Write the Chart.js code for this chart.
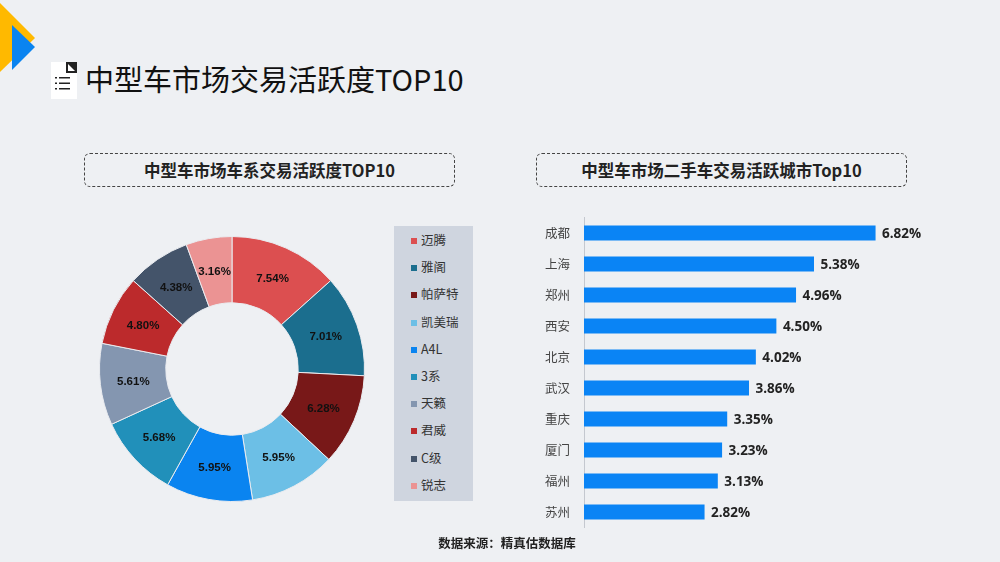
<!DOCTYPE html>
<html lang="zh"><head><meta charset="utf-8">
<script src="https://cdn.jsdelivr.net/npm/chart.js@4"></script>
<style>
html,body{margin:0;padding:0;width:1000px;height:562px;overflow:hidden;background:#eef0f3;font-family:"Noto Sans CJK SC","Noto Sans",sans-serif;color:#111}
.abs{position:absolute}
#title{left:85px;top:57px;font-size:29px;line-height:42px;white-space:nowrap;color:#111}
.sub{box-sizing:border-box;top:153px;height:34px;border:1px dashed #444;border-radius:6px;text-align:center;font-weight:700;font-size:16.5px;line-height:32px;color:#222}
#legend{left:394px;top:226px;width:79px;height:275px;background:#cfd5df}
.li{position:absolute;left:17px;font-size:12.5px;line-height:16px;color:#333;white-space:nowrap}
.li i{display:inline-block;width:6px;height:6px;margin-right:4px;vertical-align:1px}
#src{left:0;top:534px;width:1014px;text-align:center;font-size:12.5px;line-height:18px;font-weight:700;color:#222}
canvas{display:block}
</style></head><body>
<svg class="abs" style="left:0;top:0" width="90" height="105">
<polygon points="0,3 35,38 0,72" fill="#ffb900"/>
<polygon points="12,25 35,47 12,70" fill="#0a84f0"/>
<rect x="51" y="62" width="26" height="37" fill="#fff"/>
<rect x="66" y="62" width="11" height="11" fill="#222"/>
<polygon points="68,64 75,71 68,71" fill="#fff"/>
<rect x="59" y="77" width="11" height="1.5" fill="#222"/><rect x="59" y="82.5" width="11" height="1.5" fill="#222"/><rect x="59" y="88" width="11" height="1.5" fill="#222"/>
<rect x="55" y="77" width="2" height="1.5" fill="#222"/><rect x="55" y="82.5" width="2" height="1.5" fill="#222"/><rect x="55" y="88" width="2" height="1.5" fill="#222"/>
</svg>
<div id="title" class="abs">中型车市场交易活跃度TOP10</div>
<div class="abs sub" style="left:84px;width:371px">中型车市场车系交易活跃度TOP10</div>
<div class="abs sub" style="left:536px;width:371px">中型车市场二手车交易活跃城市Top10</div>
<div id="legend" class="abs"></div>
<div class="abs" style="left:90px;top:227px;width:284px;height:284px"><canvas id="pie"></canvas></div>
<div class="abs" style="left:530px;top:207px;width:400px;height:330px"><canvas id="bar"></canvas></div>
<div id="src" class="abs">数据来源：精真估数据库</div>
<script>
const carNames = ["迈腾","雅阁","帕萨特","凯美瑞","A4L","3系","天籁","君威","C级","锐志"];
const carValues = [7.54,7.01,6.28,5.95,5.95,5.68,5.61,4.80,4.38,3.16];
const carColors = ["#dc4f50","#1b6e8e","#781818","#6cbfe6","#0a84f0","#2190ba","#8496b0","#bc2a2c","#44546a","#eb9393"];
const cityNames = ["成都","上海","郑州","西安","北京","武汉","重庆","厦门","福州","苏州"];
const cityValues = [6.82,5.38,4.96,4.50,4.02,3.86,3.35,3.23,3.13,2.82];
const barColor = "#0a84f5";

const legendEl = document.getElementById('legend');
carNames.forEach((n,i)=>{
  const d=document.createElement('div');d.className='li';d.style.top=(6+i*27.2)+'px';
  const s=document.createElement('i');s.style.background=carColors[i];d.appendChild(s);
  d.appendChild(document.createTextNode(n));legendEl.appendChild(d);
});

const pieLabels={id:'pieLabels',afterDatasetsDraw(c){
  const x=c.ctx;x.save();x.font='bold 11.5px "Liberation Sans"';x.fillStyle='#111';x.textAlign='center';x.textBaseline='middle';
  c.getDatasetMeta(0).data.forEach((a,i)=>{const p=a.getCenterPoint();x.fillText(carValues[i].toFixed(2)+'%',p.x,p.y+1);});
  x.restore();
}};
new Chart(document.getElementById('pie'),{type:'doughnut',
  data:{labels:carNames,datasets:[{data:carValues,backgroundColor:carColors,borderColor:'#e9ebef',borderWidth:1}]},
  options:{responsive:true,maintainAspectRatio:false,animation:false,cutout:'50%',layout:{padding:9},
    plugins:{legend:{display:false},tooltip:{enabled:false}}},
  plugins:[pieLabels]});

const barLabels={id:'barLabels',afterDatasetsDraw(c){
  const x=c.ctx;x.save();x.font='bold 13.5px "Open Sans"';x.fillStyle='#222';x.textAlign='left';x.textBaseline='middle';
  c.getDatasetMeta(0).data.forEach((b,i)=>{x.fillText(cityValues[i].toFixed(2)+'%',b.x+6.5,b.y+1);});
  x.restore();
}};
new Chart(document.getElementById('bar'),{type:'bar',
  data:{labels:cityNames,datasets:[{data:cityValues,backgroundColor:barColor,borderWidth:0,categoryPercentage:1,barPercentage:0.484}]},
  options:{indexAxis:'y',responsive:true,maintainAspectRatio:false,animation:false,
    layout:{padding:{top:10.5,bottom:9.5,right:4,left:0}},
    plugins:{legend:{display:false},tooltip:{enabled:false}},
    scales:{
      x:{display:false,min:0,max:8},
      y:{afterFit(s){s.width=54;s.paddingTop=0;s.paddingBottom=0;},grid:{display:false,drawTicks:false},border:{display:true,color:'#c4c8cf',width:1},
         ticks:{padding:14,color:'#444',font:{size:12.5,family:'"Noto Sans CJK SC"'}}}
    }},
  plugins:[barLabels]});
</script>
</body></html>
